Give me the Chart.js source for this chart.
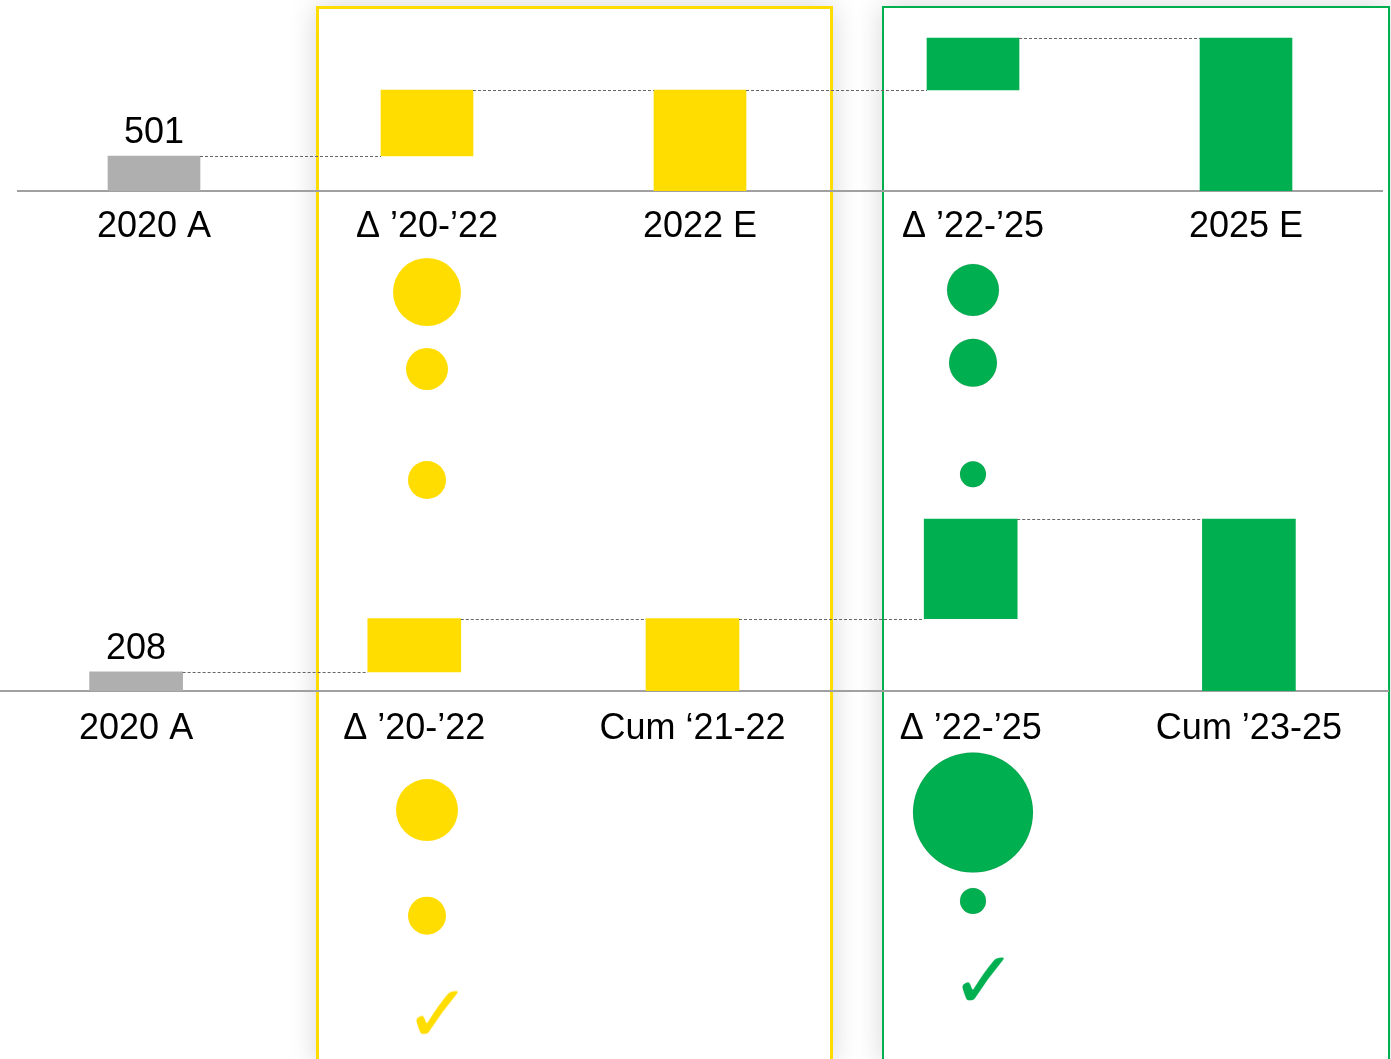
<!DOCTYPE html>
<html>
<head>
<meta charset="utf-8">
<script src="https://cdn.jsdelivr.net/npm/chart.js@4.4.0/dist/chart.umd.min.js"></script>
<style>
  html, body { margin: 0; padding: 0; background: #fff; }
  #page { position: relative; width: 1391px; height: 1059px; overflow: hidden; }
  .box { position: absolute; box-sizing: border-box; background: #fff; box-shadow: 0 0 26px rgba(0,0,0,0.16); }
  #boxY { left: 316px; top: 6px; width: 517px; height: 1058px; border: 3px solid #FFDD00; }
  #boxG { left: 882px; top: 6px; width: 508px; height: 1058px; border: 2px solid #00B050; }
  canvas { position: absolute; }
  #topChart { left: 0; top: 0; }
  #bottomChart { left: -3px; top: 500px; }
  #bubbleChart { left: 0; top: 240px; }
</style>
</head>
<body>
<div id="page">
  <div class="box" id="boxY"></div>
  <div class="box" id="boxG"></div>
  <canvas id="topChart" width="1391" height="260"></canvas>
  <canvas id="bottomChart" width="1394" height="260"></canvas>
  <canvas id="bubbleChart" width="1391" height="819"></canvas>
</div>
<script>
// waterfall 1
var topLabels = ['2020 A', 'Δ ’20-’22', '2022 E', 'Δ ’22-’25', '2025 E'];
var topSteps = [501, 945, 1446, 744, 2190];
// waterfall 2
var bottomLabels = ['2020 A', 'Δ ’20-’22', 'Cum ‘21-22', 'Δ ’22-’25', 'Cum ’23-25'];
var bottomSteps = [208, 580, 788, 1084, 1872];
var stepKinds = ['total', 'delta', 'total', 'delta', 'total'];
var barColors = ['#AFAFAF', '#FFDD00', '#FFDD00', '#00B050', '#00B050'];

// bubbles (column = category index, row = vertical position 0..100)
var yellowCol = 1, greenCol = 3;
var yellowRows = [6.35, 15.75, 29.3, 69.6, 82.5];
var yellowSizes = [34, 21, 19, 31, 19];
var greenRows = [6.1, 15.0, 28.6, 69.9, 80.7];
var greenSizes = [26, 24, 13, 60, 13];
var checkCols = [1.04, 3.04];
var checkRows = [94.7, 90.6];

var FONT = "'Liberation Sans', Arial, sans-serif";
Chart.defaults.font.family = FONT;
Chart.defaults.devicePixelRatio = 1;

function toRanges(steps) {
    var run = 0, out = [];
    steps.forEach(function (v, i) {
        if (stepKinds[i] === 'total') { out.push([0, v]); run = v; }
        else { out.push([run, run + v]); run += v; }
    });
    return out;
}

var waterfallPlugin = {
    id: 'waterfall',
    afterDatasetsDraw: function (chart) {
        var ctx = chart.ctx;
        var meta = chart.getDatasetMeta(0);
        var data = chart.data.datasets[0].data;
        var ys = chart.scales.y;
        ctx.save();
        ctx.strokeStyle = '#666';
        ctx.lineWidth = 1;
        ctx.setLineDash([3, 2]);
        for (var i = 0; i < meta.data.length - 1; i++) {
            var a = meta.data[i], b = meta.data[i + 1];
            var y = Math.round(ys.getPixelForValue(data[i][1])) + 0.5;
            ctx.beginPath();
            ctx.moveTo(a.x + a.width / 2, y);
            ctx.lineTo(b.x - b.width / 2, y);
            ctx.stroke();
        }
        ctx.setLineDash([]);
        // value on first bar
        var first = meta.data[0];
        ctx.fillStyle = '#000';
        ctx.font = '36px ' + FONT;
        ctx.textAlign = 'center';
        ctx.textBaseline = 'alphabetic';
        ctx.fillText(String(data[0][1]), first.x, ys.getPixelForValue(data[0][1]) - 13);
        ctx.restore();
    }
};

function waterfall(id, labels, steps, yMax, thick, padL, padR, tickPad) {
    return new Chart(document.getElementById(id), {
        type: 'bar',
        data: {
            labels: labels,
            datasets: [{
                data: toRanges(steps),
                backgroundColor: barColors,
                barThickness: thick,
                borderSkipped: false
            }]
        },
        options: {
            responsive: false,
            animation: false,
            layout: { padding: { left: padL, right: padR, top: 0, bottom: 0 } },
            plugins: { legend: { display: false }, tooltip: { enabled: false } },
            scales: {
                x: {
                    grid: { display: false, drawTicks: false },
                    border: { color: '#A0A0A0', width: 2 },
                    ticks: { color: '#000', font: { size: 36 }, padding: tickPad, maxRotation: 0, autoSkip: false },
                    afterFit: function (s) { s.height = 69; }
                },
                y: { display: false, min: 0, max: yMax }
            }
        },
        plugins: [waterfallPlugin]
    });
}

waterfall('topChart', topLabels, topSteps, 2734, 92, 17.5, 8.5, 14);
waterfall('bottomChart', bottomLabels, bottomSteps, 2080, 93, 0, 3, 16);

function checkImage(color) {
    var c = document.createElement('canvas');
    c.width = 90; c.height = 90;
    var g = c.getContext('2d');
    g.fillStyle = color;
    g.font = "bold 80px 'DejaVu Sans'";
    g.textAlign = 'center';
    g.textBaseline = 'middle';
    g.fillText('✓', 45, 50);
    return c;
}

function pts(col, rows, sizes) {
    return rows.map(function (r, i) { return { x: col, y: r, r: sizes[i] }; });
}

new Chart(document.getElementById('bubbleChart'), {
    type: 'bubble',
    data: {
        datasets: [
            { data: pts(yellowCol, yellowRows, yellowSizes), backgroundColor: '#FFDD00', borderWidth: 0, clip: false },
            { data: pts(greenCol, greenRows, greenSizes), backgroundColor: '#00B050', borderColor: 'rgba(0,0,0,0.07)', borderWidth: 1, clip: false },
            { type: 'scatter', data: [{ x: checkCols[0], y: checkRows[0] }], pointStyle: checkImage('#FFDD00'), clip: false },
            { type: 'scatter', data: [{ x: checkCols[1], y: checkRows[1] }], pointStyle: checkImage('#00B050'), clip: false }
        ]
    },
    options: {
        responsive: false,
        animation: false,
        layout: { autoPadding: false, padding: { left: 17.5, right: 8.5, top: 0, bottom: 0 } },
        plugins: { legend: { display: false }, tooltip: { enabled: false } },
        scales: {
            x: { type: 'linear', display: false, min: -0.5, max: 4.5 },
            y: { type: 'linear', display: false, min: 0, max: 100, reverse: true }
        }
    }
});
</script>
</body>
</html>
